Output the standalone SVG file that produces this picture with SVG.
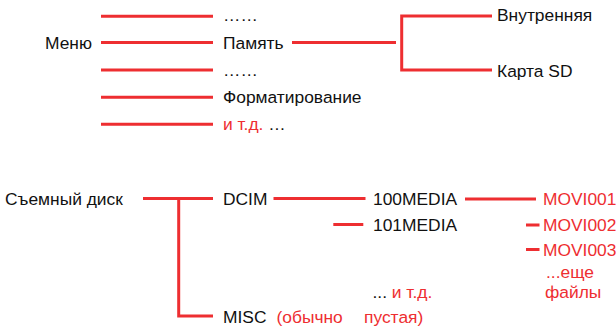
<svg xmlns="http://www.w3.org/2000/svg" width="616" height="327" viewBox="0 0 616 327">
<style>
  text { font-family: "Liberation Sans", Arial, sans-serif; font-size: 17.4px; fill: #111; }
  .r { fill: #ee2e31; }
  .c { fill: none; stroke: #ee2e31; stroke-width: 3; }
</style>
<rect width="616" height="327" fill="#fff"/>
<g id="connectors">
  <path class="c" d="M101 16.2H213M101 42.5H213M101 70H213M101 97.2H213M101 124.3H213"/>
  <path class="c" d="M292 42.5H396"/>
  <path class="c" d="M492 16H401.7V70H492"/>
  <path class="c" d="M143 198.5H213M178.7 198.5V316H213"/>
  <path class="c" d="M273.5 198.5H365.5"/>
  <path class="c" d="M333.3 224.5H363.3"/>
  <path class="c" d="M465 199H536"/>
  <path class="c" d="M526 225H539.5M526 249.5H539.5"/>
</g>
<g id="menu"><text x="45" y="48.5">Меню</text></g>
<g id="item-dots1"><text x="223" y="21">……</text></g>
<g id="item-memory"><text x="223" y="48.5">Память</text></g>
<g id="item-dots2"><text x="223" y="75.5">……</text></g>
<g id="item-format"><text x="223" y="103">Форматирование</text></g>
<g id="item-etc"><text x="223" y="130"><tspan class="r">и т.д.</tspan> …</text></g>
<g id="internal"><text x="497" y="20.7">Внутренняя</text></g>
<g id="sdcard"><text x="497" y="76.5">Карта SD</text></g>
<g id="disk"><text x="5" y="205">Съемный диск</text></g>
<g id="dcim"><text x="223" y="205">DCIM</text></g>
<g id="misc"><text x="223" y="323">MISC</text><text class="r" x="276.5" y="323">(обычно</text><text class="r" x="364" y="323">пустая)</text></g>
<g id="media100"><text x="373" y="205">100MEDIA</text></g>
<g id="media101"><text x="373" y="231">101MEDIA</text></g>
<g id="media-etc"><text x="372.5" y="298">... <tspan class="r">и т.д.</tspan></text></g>
<g id="movi001"><text class="r" x="543" y="205">MOVI001</text></g>
<g id="movi002"><text class="r" x="543" y="231">MOVI002</text></g>
<g id="movi003"><text class="r" x="543" y="256">MOVI003</text></g>
<g id="more-files"><text class="r" x="546" y="278">...еще</text><text class="r" x="545" y="298">файлы</text></g>
</svg>
